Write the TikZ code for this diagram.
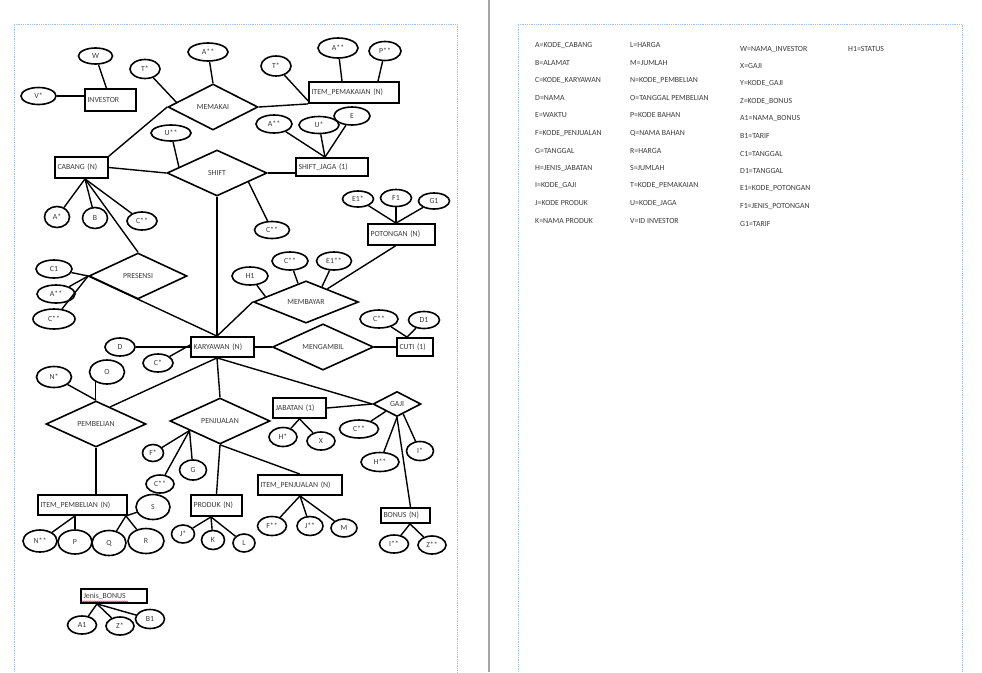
\documentclass[tikz,border=0pt]{standalone}
\usepackage{fontspec}
\setmainfont{Carlito}
\usetikzlibrary{shapes.geometric,calc,decorations.pathmorphing}
\definecolor{txtgray}{HTML}{3C3C3C}
\definecolor{marginblue}{HTML}{9CC2E5}
\definecolor{sepgray}{HTML}{A6A6A6}
\newcommand{\dgfont}{\fontsize{7.8}{9}\selectfont}
\newcommand{\lgfont}{\fontsize{7.8}{9}\selectfont}
\tikzset{
  attr/.style={draw, ellipse, line width=1.6pt, inner sep=0pt, font=\dgfont, text=txtgray},
  ent/.style={draw, rectangle, line width=1.8pt, inner xsep=2.5pt, inner ysep=0pt, align=left, font=\dgfont, text=txtgray},
  rel/.style={draw, diamond, line width=1.6pt, inner sep=0pt, font=\dgfont, text=txtgray},
  conn/.style={line width=1.4pt},
  legend/.style={anchor=west, inner sep=0pt, font=\lgfont, text=txtgray},
  margin/.style={densely dotted, line width=0.8pt, color=marginblue},
  sepline/.style={line width=1.2pt, color=sepgray}
}
\begin{document}
\begin{tikzpicture}[x=1pt,y=-1pt]
\fill[white] (0,0) rectangle (982,672);
\useasboundingbox (0,0) rectangle (982,672);
% page frame
\draw[margin] (14,672) -- (14,24) -- (457,24) -- (457,672);
\draw[margin] (518,672) -- (518,24) -- (962,24) -- (962,672);
\draw[sepline] (489,0) -- (489,672);

% entities
\node[ent, text width=46pt, minimum height=22pt] (inv) at (110.5,100) {INVESTOR};
\node[ent, text width=85pt, minimum height=21pt] (itpk) at (354,92.5) {ITEM\_PEMAKAIAN (N)};
\node[ent, text width=48pt, minimum height=21pt] (cab) at (81.5,167.5) {CABANG (N)};
\node[ent, text width=67pt, minimum height=18pt] (sj) at (332,167) {SHIFT\_JAGA (1)};
\node[ent, text width=62pt, minimum height=21pt] (pot) at (401.5,234.5) {POTONGAN (N)};
\node[ent, text width=58pt, minimum height=20pt] (kar) at (222.5,347) {KARYAWAN (N)};
\node[ent, text width=31pt, minimum height=18pt] (cuti) at (415,347) {CUTI (1)};
\node[ent, text width=48pt, minimum height=20pt] (jab) at (299.5,408) {JABATAN (1)};
\node[ent, text width=84pt, minimum height=20pt] (itpb) at (82.5,505) {ITEM\_PEMBELIAN (N)};
\node[ent, text width=46pt, minimum height=21pt] (prod) at (216.5,505.5) {PRODUK (N)};
\node[ent, text width=79pt, minimum height=20pt] (itpj) at (300,485) {ITEM\_PENJUALAN (N)};
\node[ent, text width=44pt, minimum height=15pt] (bon) at (405.5,515.5) {BONUS (N)};
\node[ent, text width=61pt, minimum height=14pt] (jb) at (114,596) {Jenis\_BONUS};
\draw[red, line width=0.4pt, decorate, decoration={snake, amplitude=0.5pt, segment length=2pt}]
  ([xshift=2pt,yshift=2.5pt]jb.south west) -- ([xshift=48pt,yshift=2.5pt]jb.south west);

% relationships
\node[rel, minimum width=90pt, minimum height=46pt] (memakai) at (213,107) {MEMAKAI};
\node[rel, minimum width=100pt, minimum height=46pt] (shift) at (217,173) {SHIFT};
\node[rel, minimum width=98pt, minimum height=46pt] (presensi) at (138,276) {PRESENSI};
\node[rel, minimum width=105pt, minimum height=36pt] (membayar) at (306,302) {MEMBAYAR};
\node[rel, minimum width=101pt, minimum height=34pt] (mengambil) at (323,347) {MENGAMBIL};
\node[rel, minimum width=100pt, minimum height=46pt] (pembelian) at (96,424) {PEMBELIAN};
\node[rel, minimum width=100pt, minimum height=46pt] (penjualan) at (220,421) {PENJUALAN};
\node[rel, minimum width=48pt, minimum height=25pt] (gaji) at (397,404) {GAJI};

% attributes
\node[attr, minimum width=34pt, minimum height=16pt] (aW) at (95.5,56) {W};
\node[attr, minimum width=35pt, minimum height=17pt] (aVs) at (38.5,96) {V*};
\node[attr, minimum width=30pt, minimum height=19pt] (aTsa) at (145,69) {T*};
\node[attr, minimum width=40pt, minimum height=18pt] (aAssa) at (208,52) {A**};
\node[attr, minimum width=40pt, minimum height=16pt] (aUss) at (171,133) {U**};
\node[attr, minimum width=25pt, minimum height=21pt] (aAs) at (57,217) {A*};
\node[attr, minimum width=25pt, minimum height=21pt] (aB) at (95,218) {B};
\node[attr, minimum width=30pt, minimum height=18pt] (aCssa) at (142,221) {C**};
\node[attr, minimum width=36pt, minimum height=18pt] (aCa) at (54,269) {C1};
\node[attr, minimum width=38pt, minimum height=18pt] (aAssb) at (56,294) {A**};
\node[attr, minimum width=42pt, minimum height=20pt] (aCssb) at (54,319) {C**};
\node[attr, minimum width=30pt, minimum height=18pt] (aD) at (120,347) {D};
\node[attr, minimum width=30pt, minimum height=18pt] (aCs) at (158,363) {C*};
\node[attr, minimum width=35pt, minimum height=21pt] (aNs) at (54,377) {N*};
\node[attr, minimum width=35pt, minimum height=24pt] (aO) at (107,372) {O};
\node[attr, minimum width=40pt, minimum height=20pt] (aAssc) at (338,48) {A**};
\node[attr, minimum width=32pt, minimum height=19pt] (aPss) at (385,51) {P**};
\node[attr, minimum width=30pt, minimum height=20pt] (aTsb) at (276,66) {T*};
\node[attr, minimum width=36pt, minimum height=18pt] (aAssd) at (274,124) {A**};
\node[attr, minimum width=40pt, minimum height=17pt] (aUs) at (319,125) {U*};
\node[attr, minimum width=36pt, minimum height=18pt] (aE) at (352,116) {E};
\node[attr, minimum width=35pt, minimum height=17pt] (aCssc) at (272,230) {C**};
\node[attr, minimum width=31pt, minimum height=16pt] (aEas) at (358,199) {E1*};
\node[attr, minimum width=31pt, minimum height=17pt] (aFa) at (396,198) {F1};
\node[attr, minimum width=31pt, minimum height=16pt] (aGa) at (434,201) {G1};
\node[attr, minimum width=36pt, minimum height=18pt] (aCssd) at (290,261) {C**};
\node[attr, minimum width=35pt, minimum height=18pt] (aEass) at (334,261) {E1**};
\node[attr, minimum width=36pt, minimum height=18pt] (aHa) at (250,276) {H1};
\node[attr, minimum width=38pt, minimum height=18pt] (aCsse) at (379,319) {C**};
\node[attr, minimum width=31pt, minimum height=17pt] (aDa) at (424,320) {D1};
\node[attr, minimum width=28pt, minimum height=19pt] (aHs) at (283,437) {H*};
\node[attr, minimum width=28pt, minimum height=18pt] (aX) at (321,441) {X};
\node[attr, minimum width=39pt, minimum height=18pt] (aCssf) at (359,429) {C**};
\node[attr, minimum width=38pt, minimum height=19pt] (aHss) at (380,462) {H**};
\node[attr, minimum width=27pt, minimum height=19pt] (aIs) at (420,451) {I*};
\node[attr, minimum width=29pt, minimum height=18pt] (aIss) at (394,544) {I**};
\node[attr, minimum width=28pt, minimum height=18pt] (aZss) at (432,545) {Z**};
\node[attr, minimum width=21pt, minimum height=17pt] (aFs) at (153,453) {F*};
\node[attr, minimum width=27pt, minimum height=20pt] (aG) at (193,470) {G};
\node[attr, minimum width=28pt, minimum height=18pt] (aCssg) at (160,484) {C**};
\node[attr, minimum width=23pt, minimum height=18pt] (aJs) at (183,534) {J*};
\node[attr, minimum width=23pt, minimum height=19pt] (aK) at (213,540) {K};
\node[attr, minimum width=22pt, minimum height=18pt] (aL) at (244,543) {L};
\node[attr, minimum width=29pt, minimum height=19pt] (aFss) at (272,526) {F**};
\node[attr, minimum width=26pt, minimum height=19pt] (aJss) at (310,526) {J**};
\node[attr, minimum width=26pt, minimum height=18pt] (aM) at (344,528) {M};
\node[attr, minimum width=34pt, minimum height=25pt] (aS) at (153,507) {S};
\node[attr, minimum width=34pt, minimum height=22pt] (aNss) at (40,541) {N**};
\node[attr, minimum width=34pt, minimum height=24pt] (aP) at (75,542) {P};
\node[attr, minimum width=34pt, minimum height=25pt] (aQ) at (109,543) {Q};
\node[attr, minimum width=36pt, minimum height=25pt] (aR) at (146,541) {R};
\node[attr, minimum width=29pt, minimum height=18pt] (aAa) at (82,625) {A1};
\node[attr, minimum width=28pt, minimum height=18pt] (aZs) at (120,626) {Z*};
\node[attr, minimum width=29pt, minimum height=19pt] (aBa) at (150,619) {B1};

% helper points
\coordinate (ktop) at (shift.south |- kar.north);
\coordinate (kbot) at (shift.south |- kar.south);
\coordinate (cabb) at ([xshift=3.5pt]cab.south);
\coordinate (sjt) at ([xshift=-7pt]sj.north);
\coordinate (pott) at ([xshift=-5.5pt]pot.north);
\coordinate (cutit) at ([xshift=-8pt]cuti.north);
\coordinate (pjl) at ($(penjualan.west)!0.4!(penjualan.south)$);
\coordinate (prodb) at ([xshift=-5.5pt]prod.south);
\coordinate (itpbl) at ([xshift=-7.5pt]itpb.south);
\coordinate (itpbr) at ([xshift=-2pt]itpb.south east);
\coordinate (bonb) at ([xshift=4.5pt]bon.south);
\coordinate (jbb) at ([xshift=-17pt]jb.south);

% connectors
\draw[conn] (aW) -- (inv);
\draw[conn] (aVs.east) -- (aVs.east -| inv.west);
\draw[conn] (aTsa) -- ($(memakai.west)!0.2!(memakai.north)$);
\draw[conn] (aAssa) -- (memakai.north);
\draw[conn] (cab.north east) -- (memakai.west);
\draw[conn] (memakai.east) -- (itpk.south west);
\draw[conn] (aTsb) -- ([yshift=3pt]itpk.south west);
\draw[conn] (aAssc) -- ([xshift=-12pt]itpk.north);
\draw[conn] (aPss) -- ([xshift=24pt]itpk.north);
\draw[conn] (aUss) -- ($(shift.west)!0.25!(shift.north)$);
\draw[conn] (cab.east) -- (shift.west);
\draw[conn] (shift.east) -- (shift.east -| sj.west);
\draw[conn] (aAssd) -- (sjt);
\draw[conn] (aUs) -- (sjt);
\draw[conn] (aE) -- (sjt);
\draw[conn] ($(shift.east)!0.38!(shift.south)$) -- (aCssc);
\draw[conn] (shift.south) -- (ktop);
\draw[conn] (cabb) -- (aAs);
\draw[conn] (cabb) -- (aB);
\draw[conn] (cabb) -- (aCssa);
\draw[conn] (cabb) -- (presensi.north);
\draw[conn] (presensi.west) -- (aCa);
\draw[conn] (presensi.west) -- (aAssb);
\draw[conn] (presensi.west) -- (aCssb);
\draw[conn] (presensi.west) -- (ktop);
\draw[conn] (membayar.west) -- (ktop);
\draw[conn] (aHa) -- ($(membayar.west)!0.24!(membayar.north)$);
\draw[conn] (aCssd) -- ($(membayar.west)!0.85!(membayar.north)$);
\draw[conn] (aEass) -- ($(membayar.east)!0.7!(membayar.north)$);
\draw[conn] ([xshift=-6pt]pot.south) -- ($(membayar.east)!0.6!(membayar.north)$);
\draw[conn] (pott) -- (aEas);
\draw[conn] (pott) -- (aFa);
\draw[conn] (pott) -- (aGa);
\draw[conn] (kar.east) -- (mengambil.west);
\draw[conn] (mengambil.east) -- (cuti.west);
\draw[conn] (cutit) -- (aCsse);
\draw[conn] (cutit) -- (aDa);
\draw[conn] (aD) -- (kar.west);
\draw[conn] (aCs) -- ([yshift=2pt]kar.west);
\draw[conn] (kbot) -- ($(pembelian.north)!0.28!(pembelian.east)$);
\draw[conn] (kbot) -- (penjualan.north);
\draw[conn] (kbot) -- (gaji.west);
\draw[conn] (aNs) -- (pembelian.north);
\draw[conn] (aO.220) -- (aO.220 |- pembelian.north);
\draw[conn] (pembelian.south) -- (pembelian.south |- itpb.north);
\draw[conn] (pjl) -- (aFs);
\draw[conn] (pjl) -- (aG);
\draw[conn] (pjl) -- (aCssg);
\draw[conn] (penjualan.south) -- (prod.north);
\draw[conn] (penjualan.south) -- (itpj.north);
\draw[conn] (itpj.south) -- (aFss);
\draw[conn] (itpj.south) -- (aJss);
\draw[conn] (itpj.south) -- (aM);
\draw[conn] (prodb) -- (aJs);
\draw[conn] (prodb) -- (aK);
\draw[conn] (prodb) -- (aL);
\draw[conn] (itpbl) -- (aNss);
\draw[conn] (itpbl) -- (aP);
\draw[conn] (itpbr) -- (aS);
\draw[conn] (itpbr) -- (aQ);
\draw[conn] (itpbr) -- (aR);
\draw[conn] (jab.east) -- (gaji.west);
\draw[conn] (jab.south) -- (aHs);
\draw[conn] (jab.south) -- (aX);
\draw[conn] (gaji.south) -- (aHss);
\draw[conn] ($(gaji.south)!0.25!(gaji.east)$) -- (aIs);
\draw[conn] (gaji.south) -- ([xshift=5pt]bon.north);
\draw[conn] (aCssf) -- ($(gaji.west)!0.55!(gaji.south)$);
\draw[conn] (bonb) -- (aIss);
\draw[conn] (bonb) -- (aZss);
\draw[conn] (jbb) -- (aAa);
\draw[conn] (jbb) -- (aZs);
\draw[conn] (jbb) -- (aBa);

% legend
\foreach \t [count=\i from 0] in {A=KODE\_CABANG, B=ALAMAT, C=KODE\_KARYAWAN, D=NAMA, E=WAKTU, F=KODE\_PENJUALAN, G=TANGGAL, H=JENIS\_JABATAN, I=KODE\_GAJI, J=KODE PRODUK, K=NAMA PRODUK}
  \node[legend] (lga\i) at (535,{45+17.6*\i}) {\t};
\foreach \t [count=\i from 0] in {L=HARGA, M=JUMLAH, N=KODE\_PEMBELIAN, O=TANGGAL PEMBELIAN, P=KODE BAHAN, Q=NAMA BAHAN, R=HARGA, S=JUMLAH, T=KODE\_PEMAKAIAN, U=KODE\_JAGA, V=ID INVESTOR}
  \node[legend] (lgb\i) at (630,{45+17.6*\i}) {\t};
\foreach \t [count=\i from 0] in {W=NAMA\_INVESTOR, X=GAJI, Y=KODE\_GAJI, Z=KODE\_BONUS, A1=NAMA\_BONUS, B1=TARIF, C1=TANGGAL, D1=TANGGAL, E1=KODE\_POTONGAN, F1=JENIS\_POTONGAN, G1=TARIF}
  \node[legend] (lgc\i) at (740,{49+17.45*\i}) {\t};
\node[legend] (lgd0) at (848,49) {H1=STATUS};
\end{tikzpicture}
\end{document}
